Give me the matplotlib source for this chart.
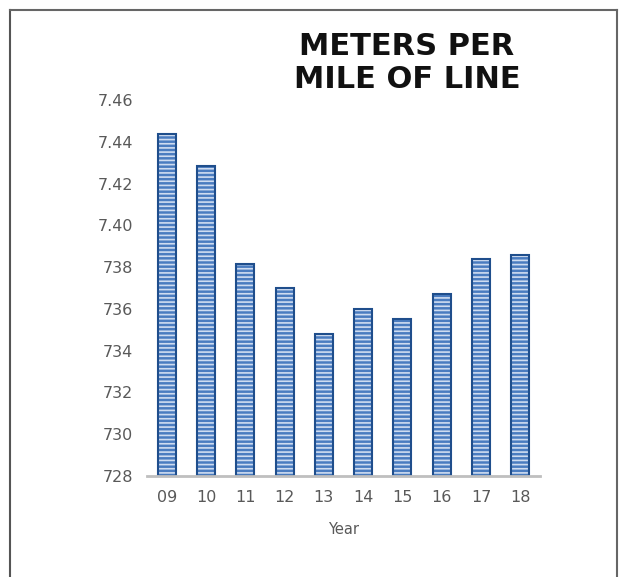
import numpy as np
import matplotlib.pyplot as plt
from matplotlib.lines import Line2D

# Dados do gráfico
years = ['09', '10', '11', '12', '13', '14', '15', '16', '17', '18']
meters = [744.35, 742.85, 738.15, 737.0, 734.8, 736.0, 735.5, 736.7, 738.4, 738.6]
tick_values = [728, 730, 732, 734, 736, 738, 740, 742, 744, 746]
tick_labels = ['728', '730', '732', '734', '736', '738', '7.40', '7.42', '7.44', '7.46']

plt.rcParams['hatch.linewidth'] = 1.2

fig = plt.figure(figsize=(6.24, 5.77), dpi=100)
ax = fig.add_axes([147 / 624, 1 - 476 / 577, (540 - 147) / 624, (476 - 100) / 577])

x = np.arange(len(years))
base = tick_values[0]
heights = [m - base for m in meters]

# Preenchimento com hachura horizontal
ax.bar(x, heights, bottom=base, width=0.46, color='#4a7cc0', edgecolor='#cfdcf0',
       hatch='----', linewidth=0)
# Contorno das barras
ax.bar(x, heights, bottom=base, width=0.46, color='none', edgecolor='#1f4e8c', linewidth=1.5)

ax.set_xlim(-0.5, 9.5)
ax.set_ylim(728, 746)
ax.set_yticks(tick_values)
ax.set_yticklabels(tick_labels)
ax.set_xticks(x)
ax.set_xticklabels(years)
ax.tick_params(length=0, labelsize=11.5, colors='#595959', pad=10)
ax.tick_params(axis='y', pad=10)

for s in ['top', 'right', 'left']:
    ax.spines[s].set_visible(False)
ax.spines['bottom'].set_color('#bfbfbf')
ax.spines['bottom'].set_linewidth(2)

ax.set_xlabel('Year', fontsize=10.5, color='#595959', labelpad=12)

fig.text(407 / 624, 1 - 63 / 577, 'METERS PER\nMILE OF LINE', ha='center', va='center',
         fontsize=22, fontweight='bold', color='#111111', linespacing=1.15)

# Borda da figura
fig.add_artist(Line2D([10 / 624, 10 / 624], [0, 1 - 10 / 577], color='#555555', lw=1.5))
fig.add_artist(Line2D([10 / 624, 617 / 624], [1 - 10 / 577, 1 - 10 / 577], color='#666666', lw=1.5))
fig.add_artist(Line2D([617 / 624, 617 / 624], [0, 1 - 10 / 577], color='#666666', lw=1.5))

plt.savefig('out.png', dpi=100)
plt.close()
